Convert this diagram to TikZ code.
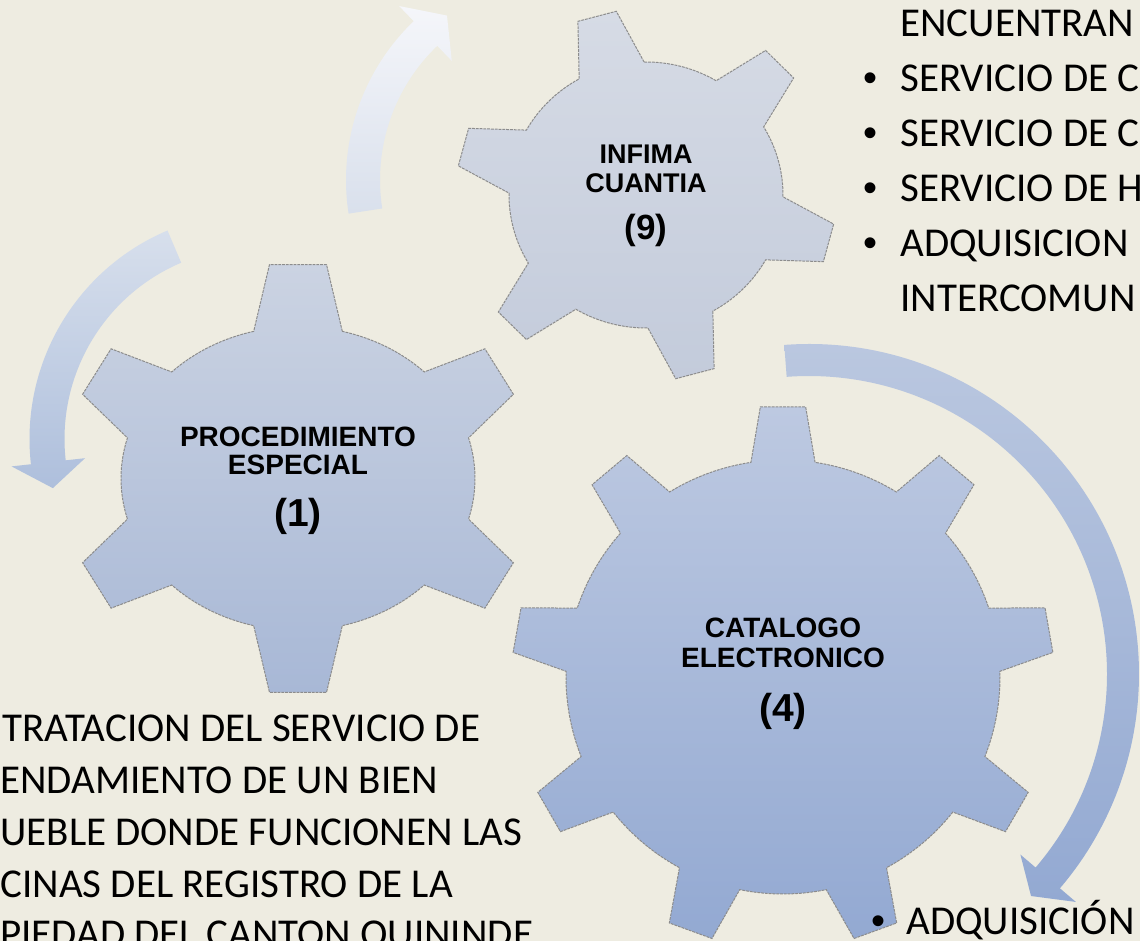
\documentclass[tikz,border=0pt]{standalone}
\usepackage{fontspec}
\setmainfont{Carlito}
\newfontfamily\arialfont{Liberation Sans}
\definecolor{bgcol}{HTML}{EEECE1}
\definecolor{gninetop}{HTML}{D6DBE5}
\definecolor{gninebot}{HTML}{C3CBDB}
\definecolor{gonetop}{HTML}{CBD3E2}
\definecolor{gonebot}{HTML}{A8B8D6}
\definecolor{gfourtop}{HTML}{BDC9E1}
\definecolor{gfourbot}{HTML}{93A9D2}
\definecolor{arrAtop}{HTML}{F5F6FA}
\definecolor{arrAbot}{HTML}{D9E0EC}
\definecolor{arrBtop}{HTML}{D7DFEC}
\definecolor{arrBbot}{HTML}{AEBFDC}
\definecolor{arrCtop}{HTML}{BBC8E0}
\definecolor{arrCbot}{HTML}{93A9D2}
\begin{document}
\begin{tikzpicture}[x=0.5pt,y=0.5pt,
  gearline/.style={draw=black!45, line width=0.5pt, dash pattern=on 1.4pt off 0.5pt},
  gearnine/.style={gearline, top color=gninetop, bottom color=gninebot},
  gearone/.style={gearline, top color=gonetop, bottom color=gonebot},
  gearfour/.style={gearline, top color=gfourtop, bottom color=gfourbot},
  arrowA/.style={top color=arrAtop, bottom color=arrAbot},
  arrowB/.style={top color=arrBtop, bottom color=arrBbot},
  arrowC/.style={top color=arrCtop, bottom color=arrCbot},
  titlesmall/.style={font=\arialfont\bfseries\fontsize{13.5}{15}\selectfont, anchor=base, inner sep=0pt},
  titlebig/.style={font=\arialfont\bfseries\fontsize{14}{16}\selectfont, anchor=base, inner sep=0pt},
  numsmall/.style={font=\arialfont\bfseries\fontsize{17.5}{20}\selectfont, anchor=base, inner sep=0pt},
  numbig/.style={font=\arialfont\bfseries\fontsize{19.5}{22}\selectfont, anchor=base, inner sep=0pt},
  bodytext/.style={font=\fontsize{20.5}{24}\selectfont, anchor=base west, inner sep=0pt},
  bulletmark/.style={font=\arialfont\fontsize{20}{24}\selectfont, anchor=base, inner sep=0pt}
]
\useasboundingbox (0,0) rectangle (1140,941);
\fill[bgcol] (0,0) rectangle (1140,941);
\clip (0,0) rectangle (1140,941);

% gear centres
\coordinate (gearnineC) at (646,746);
\coordinate (gearoneC) at (298,462.5);
\coordinate (gearfourC) at (783,264);

% circular arrows
\begin{scope}[shift={(566,761)}]
\path[arrowA] (188.8:220) arc[start angle=188.8, end angle=133.8, radius=220]
  -- (133.8:241) -- (125.9:203) -- (133.8:165) -- (133.8:186)
  arc[start angle=133.8, end angle=188.8, radius=186] -- cycle;
\end{scope}
\begin{scope}[shift={(256,502)}]
\path[arrowB] (113:226.5) arc[start angle=113, end angle=186.4, radius=226.5]
  -- (186.4:246) -- (193.6:209) -- (186.4:172) -- (186.4:191.5)
  arc[start angle=186.4, end angle=113, radius=191.5] -- cycle;
\end{scope}
\begin{scope}[shift={(809,267)}]
\path[arrowC] (94.3:330) arc[start angle=94.3, end angle=-40.5, radius=330]
  -- (-40.5:351) -- (-45:314) -- (-40.5:278) -- (-40.5:298)
  arc[start angle=-40.5, end angle=94.3, radius=298] -- cycle;
\end{scope}

% gear 9
\begin{scope}[shift={(gearnineC)}]
\def\gAb{137}\def\gBb{133}\def\gAt{190}\def\gBt{186}\def\gaB{14.2}\def\gaT{6}\def\gSt{60}
\path[gearnine] ({\gAb*cos(105-\gaB)},{\gBb*sin(105-\gaB)})
  \foreach \tang in {105,165,...,405} {
    -- ({\gAt*cos(\tang-\gaT)},{\gBt*sin(\tang-\gaT)})
    -- ({\gAt*cos(\tang+\gaT)},{\gBt*sin(\tang+\gaT)})
    -- ({\gAb*cos(\tang+\gaB)},{\gBb*sin(\tang+\gaB)})
    arc[start angle=\tang+\gaB, end angle=\tang+\gSt-\gaB, x radius=\gAb, y radius=\gBb]
  } -- cycle;
\end{scope}

% gear 1
\begin{scope}[shift={(gearoneC)}]
\def\gAb{177}\def\gBb{152}\def\gAt{234}\def\gBt{215.5}\def\gaB{14.5}\def\gaT{7}\def\gSt{60}
\path[gearone] ({\gAb*cos(90-\gaB)},{\gBb*sin(90-\gaB)})
  \foreach \tang in {90,150,...,390} {
    -- ({\gAt*cos(\tang-\gaT)},{\gBt*sin(\tang-\gaT)})
    -- ({\gAt*cos(\tang+\gaT)},{\gBt*sin(\tang+\gaT)})
    -- ({\gAb*cos(\tang+\gaB)},{\gBb*sin(\tang+\gaB)})
    arc[start angle=\tang+\gaB, end angle=\tang+\gSt-\gaB, x radius=\gAb, y radius=\gBb]
  } -- cycle;
\end{scope}

% gear 4
\begin{scope}[shift={(gearfourC)}]
\def\gAb{217}\def\gBb{217}\def\gAt{271}\def\gBt{271}\def\gaB{8.5}\def\gaT{4.8}\def\gSt{40}
\path[gearfour] ({\gAb*cos(90-\gaB)},{\gBb*sin(90-\gaB)})
  \foreach \tang in {90,130,...,410} {
    -- ({\gAt*cos(\tang-\gaT)},{\gBt*sin(\tang-\gaT)})
    -- ({\gAt*cos(\tang+\gaT)},{\gBt*sin(\tang+\gaT)})
    -- ({\gAb*cos(\tang+\gaB)},{\gBb*sin(\tang+\gaB)})
    arc[start angle=\tang+\gaB, end angle=\tang+\gSt-\gaB, x radius=\gAb, y radius=\gBb]
  } -- cycle;
\end{scope}

% gear labels
\node[titlesmall] (ninea) at (646,777) {INFIMA};
\node[titlesmall] (nineb) at (646,748) {CUANTIA};
\node[numsmall] (ninen) at (646,701) {(9)};
\node[titlebig] (onea) at (298,494) {PROCEDIMIENTO};
\node[titlebig] (oneb) at (298,466) {ESPECIAL};
\node[numbig] (onen) at (298,414) {(1)};
\node[titlebig] (foura) at (783,303) {CATALOGO};
\node[titlebig] (fourb) at (783,273) {ELECTRONICO};
\node[numbig] (fourn) at (783,219) {(4)};

% right text block
\node[bodytext] (ra) at (900,904) {ENCUENTRAN};
\node[bulletmark] (rbb) at (870,849) {•};
\node[bodytext] (rb) at (900,849) {SERVICIO DE C};
\node[bulletmark] (rcb) at (870,794) {•};
\node[bodytext] (rc) at (900,794) {SERVICIO DE C};
\node[bulletmark] (rdb) at (870,739) {•};
\node[bodytext] (rd) at (900,739) {SERVICIO DE H};
\node[bulletmark] (reb) at (870,684) {•};
\node[bodytext] (re) at (900,684) {ADQUISICION};
\node[bodytext] (rf) at (900,629) {INTERCOMUN};

% bottom-left text block
\node[bodytext] (la) at (2,199) {TRATACION DEL SERVICIO DE};
\node[bodytext] (lb) at (0,147) {ENDAMIENTO DE UN BIEN};
\node[bodytext] (lc) at (0,95) {UEBLE DONDE FUNCIONEN LAS};
\node[bodytext] (ld) at (0,43) {CINAS DEL REGISTRO DE LA};
\node[bodytext] (le) at (0,-7) {PIEDAD DEL CANTON QUININDE};

% bottom-right text
\node[bulletmark] (bb) at (878,6) {•};
\node[bodytext] (bt) at (906,6) {ADQUISICIÓN};
\end{tikzpicture}
\end{document}
